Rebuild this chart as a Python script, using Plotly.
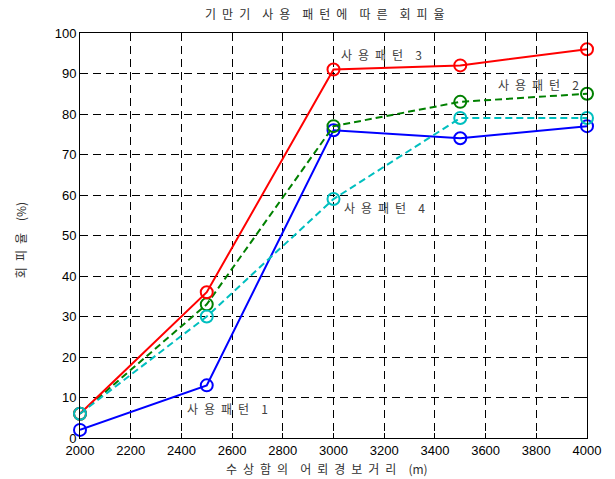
import plotly.graph_objects as go

x_vals = [2000, 2500, 3000, 3500, 4000]
pattern1 = [2, 13, 76, 74, 77]
pattern2 = [6, 33, 77, 83, 85]
pattern3 = [6, 36, 91, 92, 96]
pattern4 = [6, 30, 59, 79, 79]

x_ticks = list(range(2000, 4001, 200))
y_ticks = list(range(0, 101, 10))

INTRA = "\u2002"
INTER = "\u2003"
def is_korean(w):
    return any("\uac00" <= c <= "\ud7a3" for c in w)
def sp(s):
    return INTER.join((INTRA.join(list(w)) if is_korean(w) else w) for w in s.split(" "))

title_text = "기만기 사용 패턴에 따른 회피율"
x_title = "수상함의 어뢰경보거리 (m)"
y_title = "회피율 (%)"

labels = [
    ("사용패턴 1", 2580, 7.2),
    ("사용패턴 2", 3810, 87.4),
    ("사용패턴 3", 3190, 94.6),
    ("사용패턴 4", 3200, 56.8),
]

series = [
    (pattern1, "#0000ff", "solid", "사용패턴 1"),
    (pattern2, "#008000", "dash", "사용패턴 2"),
    (pattern3, "#ff0000", "solid", "사용패턴 3"),
    (pattern4, "#00bfbf", "dash", "사용패턴 4"),
]

fig = go.Figure()
for ys, color, dash, name in series:
    fig.add_trace(go.Scatter(
        x=x_vals, y=ys, mode="lines+markers", name=name,
        line=dict(color=color, width=2, dash=("7px,4px" if dash == "dash" else "solid")),
        marker=dict(symbol="circle-open", size=12, color=color, line=dict(width=2, color=color)),
        cliponaxis=False,
    ))

kfont = "Noto Sans CJK KR"
for txt, lx, ly in labels:
    fig.add_annotation(x=lx, y=ly, text=sp(txt), showarrow=False,
                       font=dict(family=kfont, size=12, color="#404040"))

fig.add_annotation(xref="paper", yref="paper", x=0.487, y=-0.0765, xanchor="center", yanchor="middle",
                   text=sp(x_title), showarrow=False,
                   font=dict(family=kfont, size=12, color="#303030"))
fig.add_annotation(xref="paper", yref="paper", x=-0.116, y=0.489, xanchor="center", yanchor="middle",
                   text=sp(y_title), textangle=-90, showarrow=False,
                   font=dict(family=kfont, size=12, color="#303030"))

fig.update_layout(
    width=607, height=471,
    margin=dict(l=72, r=28, t=25, b=41, autoexpand=False),
    paper_bgcolor="white", plot_bgcolor="white",
    showlegend=False,
    title=dict(text=sp(title_text), x=0.522, xanchor="center", y=0.985, yanchor="middle",
               font=dict(family=kfont, size=12, color="#303030")),
    xaxis=dict(
        range=[2000, 4000], tickvals=x_ticks, ticktext=[str(t) for t in x_ticks],
        showgrid=True, gridcolor="#000000", griddash="8px,5px", gridwidth=1,
        showline=True, linecolor="black", linewidth=1, mirror="ticks",
        ticks="inside", ticklen=5, tickcolor="black", zeroline=False, automargin=False,
        tickfont=dict(family="Liberation Sans", size=13, color="black"),
    ),
    yaxis=dict(
        range=[0, 100], tickvals=y_ticks, ticktext=[str(t) for t in y_ticks],
        showgrid=True, gridcolor="#000000", griddash="8px,5px", gridwidth=1,
        showline=True, linecolor="black", linewidth=1, mirror="ticks",
        ticks="inside", ticklen=5, tickcolor="black", zeroline=False, automargin=False,
        tickfont=dict(family="Liberation Sans", size=13, color="black"),
    ),
)

fig.write_html("out.html")
